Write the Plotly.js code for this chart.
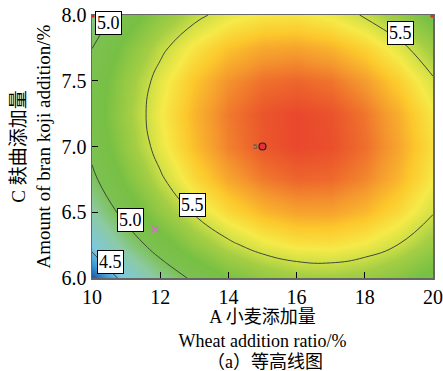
<!DOCTYPE html>
<html>
<head>
<meta charset="utf-8">
<script src="https://cdn.plot.ly/plotly-3.0.1.min.js"></script>
<style>html,body{margin:0;padding:0;background:#fff;}#chart{width:443px;height:371px;}</style>
</head>
<body>
<div id="chart"></div>
<script>
// A: wheat addition ratio (%)  — grid columns
const xVals = [10, 11, 12, 13, 14, 15, 16, 17, 18, 19, 20];
// C: bran koji addition (%) — grid rows
const yVals = [6.0, 6.25, 6.5, 6.75, 7.0, 7.25, 7.5, 7.75, 8.0];
// response values, one row per C level
const z600 = [4.272, 4.578, 4.836, 5.044, 5.204, 5.314, 5.376, 5.390, 5.354, 5.269, 5.136];
const z625 = [4.561, 4.860, 5.110, 5.312, 5.464, 5.568, 5.623, 5.629, 5.586, 5.495, 5.354];
const z650 = [4.788, 5.080, 5.323, 5.517, 5.663, 5.760, 5.808, 5.807, 5.757, 5.658, 5.511];
const z675 = [4.953, 5.238, 5.474, 5.662, 5.800, 5.890, 5.931, 5.923, 5.866, 5.760, 5.606];
const z700 = [5.057, 5.335, 5.564, 5.744, 5.876, 5.958, 5.992, 5.977, 5.913, 5.800, 5.639];
const z725 = [5.099, 5.370, 5.592, 5.765, 5.890, 5.965, 5.992, 5.970, 5.899, 5.779, 5.611];
const z750 = [5.079, 5.343, 5.558, 5.724, 5.842, 5.910, 5.930, 5.901, 5.823, 5.696, 5.521];
const z775 = [4.998, 5.255, 5.463, 5.622, 5.732, 5.794, 5.807, 5.770, 5.685, 5.552, 5.369];
const z800 = [4.855, 5.105, 5.306, 5.458, 5.562, 5.616, 5.622, 5.578, 5.486, 5.345, 5.156];
// contour levels
const levels = [4.5, 5.0, 5.5];
// contour label texts and where they sit
const labelText = ['5.0', '5.5', '5.5', '5.0', '4.5'];
const labelX = [10.47, 19.06, 12.94, 11.12, 10.53];
const labelY = [7.94, 7.86, 6.555, 6.44, 6.12];
// design points
const centerX = [15];
const centerY = [7.0];
const centerN = ['5'];
const cornerX = [10, 20];
const cornerY = [8.0, 8.0];
const markX = [11.85];
const markY = [6.37];
// ticks
const xTicks = [10, 12, 14, 16, 18, 20];
const yTicks = [6.0, 6.5, 7.0, 7.5, 8.0];

const zGrid = [z600, z625, z650, z675, z700, z725, z750, z775, z800];

const serif = 'Liberation Serif, Noto Sans CJK SC, serif';

const traces = [
  {
    type: 'contour',
    x: xVals, y: yVals, z: zGrid,
    zauto: false, zmin: 4.27, zmax: 6.0,
    colorscale: [
      [0, '#1c4f9e'], [0.075, '#3a98d6'], [0.162, '#7cc8de'], [0.306, '#8ccaa4'],
      [0.422, '#7cc152'], [0.538, '#78c044'], [0.653, '#a4ce44'], [0.711, '#cfdf46'],
      [0.769, '#f5ea48'], [0.838, '#fcc82c'], [0.908, '#f4942e'], [0.954, '#ee6a2c'],
      [1, '#e8442c']
    ],
    showscale: false,
    autocontour: false,
    contours: {start: levels[0], end: levels[levels.length - 1], size: levels[1] - levels[0], coloring: 'heatmap', showlabels: false},
    line: {color: '#3a4a3a', width: 1, smoothing: 1.3},
    hoverinfo: 'skip'
  },
  {
    type: 'scatter', mode: 'markers',
    x: cornerX, y: cornerY,
    marker: {color: '#e8202a', size: 5, symbol: 'square'},
    hoverinfo: 'skip'
  },
  {
    type: 'scatter', mode: 'markers',
    x: markX, y: markY,
    marker: {symbol: 'x-thin', size: 6, line: {color: '#cc77bb', width: 2}},
    hoverinfo: 'skip'
  },
  {
    type: 'scatter', mode: 'markers+text',
    x: centerX, y: centerY, text: centerN,
    textposition: 'middle left',
    textfont: {family: 'Liberation Sans, sans-serif', size: 8, color: '#555'},
    marker: {color: '#e8303a', size: 7, line: {color: '#222', width: 1.2}},
    hoverinfo: 'skip'
  }
];

const annotations = labelText.map((t, i) => ({
  x: labelX[i], y: labelY[i], xref: 'x', yref: 'y',
  text: t, showarrow: false,
  font: {family: serif, size: 18, color: '#000'},
  bgcolor: '#fff', bordercolor: '#000', borderwidth: 1, borderpad: 1
}));
annotations.push({
  xref: 'paper', yref: 'paper', x: 0.507, y: -0.319,
  xanchor: 'center', yanchor: 'middle', showarrow: false,
  text: '（a）等高线图',
  font: {family: serif, size: 18, color: '#000'}
});

const layout = {
  width: 443, height: 371,
  margin: {l: 92, r: 10, t: 15, b: 93},
  paper_bgcolor: '#fff', plot_bgcolor: '#fff',
  showlegend: false,
  font: {family: serif, size: 19, color: '#000'},
  xaxis: {
    range: [10, 20], tickvals: xTicks, ticks: 'inside', ticklen: 6, tickcolor: '#000', tickwidth: 1,
    showline: true, linecolor: '#666', linewidth: 1.5, mirror: true,
    showgrid: false, zeroline: false,
    tickfont: {family: serif, size: 20},
    title: {text: 'A 小麦添加量<br>Wheat addition ratio/%', font: {family: serif, size: 18}, standoff: 3}
  },
  yaxis: {
    range: [6, 8], tickvals: yTicks, tickformat: '.1f', ticks: 'inside', ticklen: 6, tickcolor: '#000', tickwidth: 1,
    showline: true, linecolor: '#666', linewidth: 1.5, mirror: true,
    showgrid: false, zeroline: false,
    tickfont: {family: serif, size: 20},
    title: {text: 'C 麸曲添加量<br>Amount of bran koji addition/%', font: {family: serif, size: 19}, standoff: 6}
  },
  annotations: annotations
};

Plotly.newPlot('chart', traces, layout, {staticPlot: true, displayModeBar: false});
</script>
</body>
</html>
